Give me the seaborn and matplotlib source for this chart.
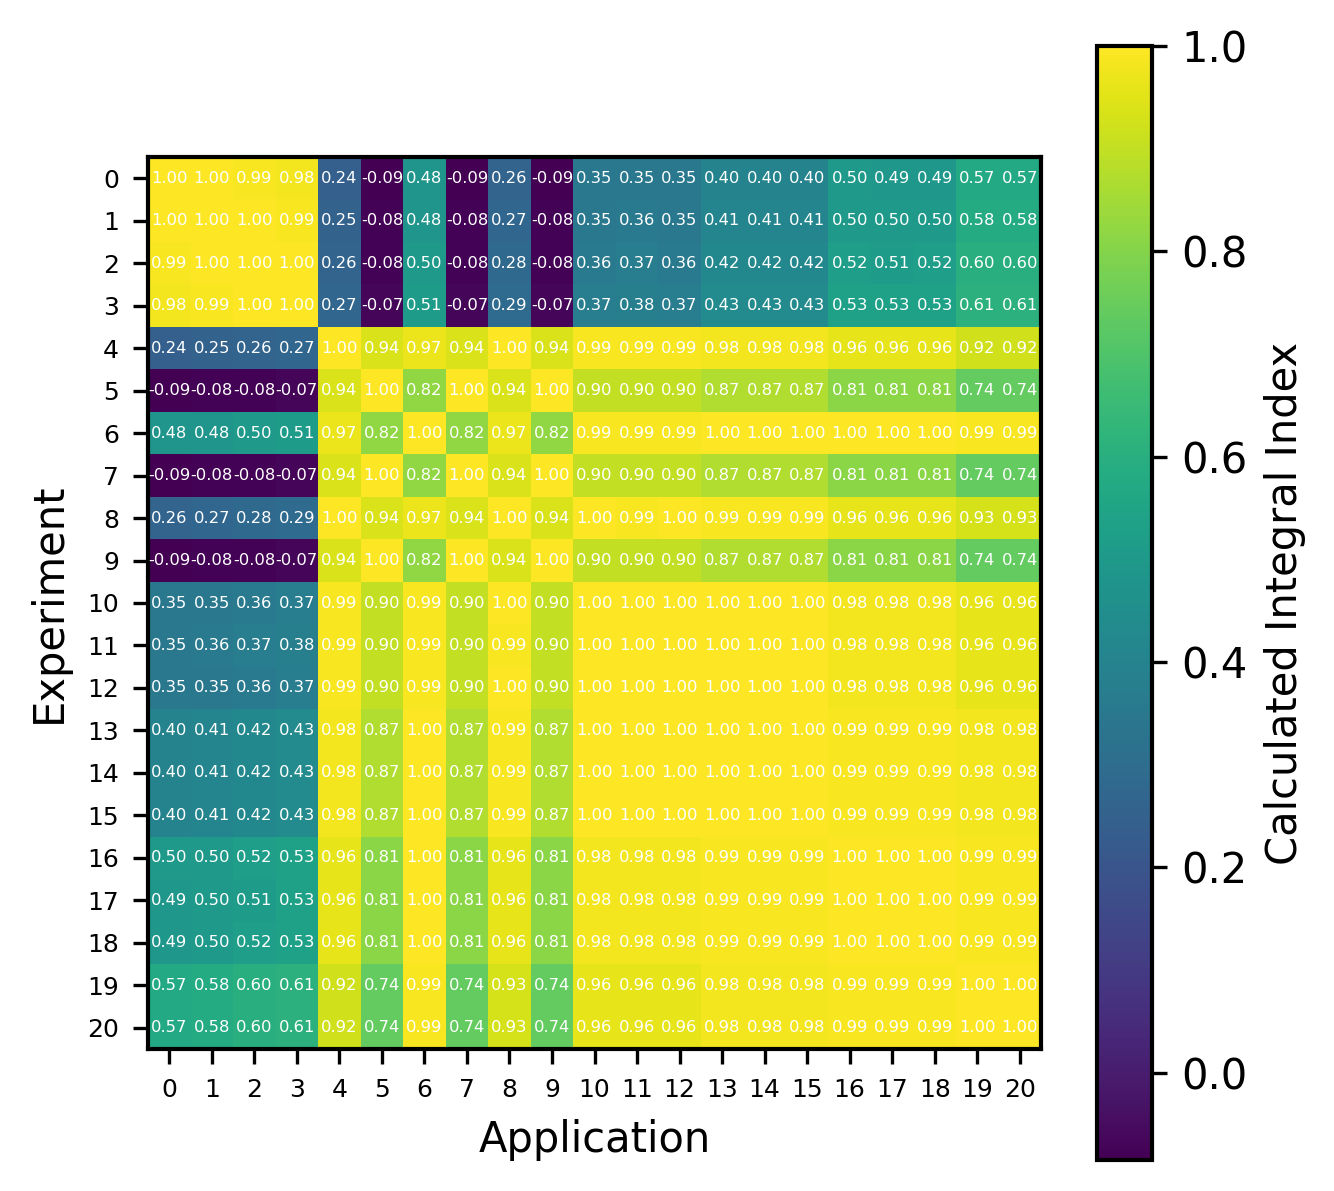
import numpy as np
import pandas as pd
import matplotlib
matplotlib.use("Agg")
import matplotlib.pyplot as plt
import seaborn as sns

experiments = list(range(21))
applications = list(range(21))

row_0 = [1.00, 1.00, 0.99, 0.98, 0.24, -0.09, 0.48, -0.09, 0.26, -0.09, 0.35, 0.35, 0.35, 0.40, 0.40, 0.40, 0.50, 0.49, 0.49, 0.57, 0.57]
row_1 = [1.00, 1.00, 1.00, 0.99, 0.25, -0.08, 0.48, -0.08, 0.27, -0.08, 0.35, 0.36, 0.35, 0.41, 0.41, 0.41, 0.50, 0.50, 0.50, 0.58, 0.58]
row_2 = [0.99, 1.00, 1.00, 1.00, 0.26, -0.08, 0.50, -0.08, 0.28, -0.08, 0.36, 0.37, 0.36, 0.42, 0.42, 0.42, 0.52, 0.51, 0.52, 0.60, 0.60]
row_3 = [0.98, 0.99, 1.00, 1.00, 0.27, -0.07, 0.51, -0.07, 0.29, -0.07, 0.37, 0.38, 0.37, 0.43, 0.43, 0.43, 0.53, 0.53, 0.53, 0.61, 0.61]
row_4 = [0.24, 0.25, 0.26, 0.27, 1.00, 0.94, 0.97, 0.94, 1.00, 0.94, 0.99, 0.99, 0.99, 0.98, 0.98, 0.98, 0.96, 0.96, 0.96, 0.92, 0.92]
row_5 = [-0.09, -0.08, -0.08, -0.07, 0.94, 1.00, 0.82, 1.00, 0.94, 1.00, 0.90, 0.90, 0.90, 0.87, 0.87, 0.87, 0.81, 0.81, 0.81, 0.74, 0.74]
row_6 = [0.48, 0.48, 0.50, 0.51, 0.97, 0.82, 1.00, 0.82, 0.97, 0.82, 0.99, 0.99, 0.99, 1.00, 1.00, 1.00, 1.00, 1.00, 1.00, 0.99, 0.99]
row_7 = [-0.09, -0.08, -0.08, -0.07, 0.94, 1.00, 0.82, 1.00, 0.94, 1.00, 0.90, 0.90, 0.90, 0.87, 0.87, 0.87, 0.81, 0.81, 0.81, 0.74, 0.74]
row_8 = [0.26, 0.27, 0.28, 0.29, 1.00, 0.94, 0.97, 0.94, 1.00, 0.94, 1.00, 0.99, 1.00, 0.99, 0.99, 0.99, 0.96, 0.96, 0.96, 0.93, 0.93]
row_9 = [-0.09, -0.08, -0.08, -0.07, 0.94, 1.00, 0.82, 1.00, 0.94, 1.00, 0.90, 0.90, 0.90, 0.87, 0.87, 0.87, 0.81, 0.81, 0.81, 0.74, 0.74]
row_10 = [0.35, 0.35, 0.36, 0.37, 0.99, 0.90, 0.99, 0.90, 1.00, 0.90, 1.00, 1.00, 1.00, 1.00, 1.00, 1.00, 0.98, 0.98, 0.98, 0.96, 0.96]
row_11 = [0.35, 0.36, 0.37, 0.38, 0.99, 0.90, 0.99, 0.90, 0.99, 0.90, 1.00, 1.00, 1.00, 1.00, 1.00, 1.00, 0.98, 0.98, 0.98, 0.96, 0.96]
row_12 = [0.35, 0.35, 0.36, 0.37, 0.99, 0.90, 0.99, 0.90, 1.00, 0.90, 1.00, 1.00, 1.00, 1.00, 1.00, 1.00, 0.98, 0.98, 0.98, 0.96, 0.96]
row_13 = [0.40, 0.41, 0.42, 0.43, 0.98, 0.87, 1.00, 0.87, 0.99, 0.87, 1.00, 1.00, 1.00, 1.00, 1.00, 1.00, 0.99, 0.99, 0.99, 0.98, 0.98]
row_14 = [0.40, 0.41, 0.42, 0.43, 0.98, 0.87, 1.00, 0.87, 0.99, 0.87, 1.00, 1.00, 1.00, 1.00, 1.00, 1.00, 0.99, 0.99, 0.99, 0.98, 0.98]
row_15 = [0.40, 0.41, 0.42, 0.43, 0.98, 0.87, 1.00, 0.87, 0.99, 0.87, 1.00, 1.00, 1.00, 1.00, 1.00, 1.00, 0.99, 0.99, 0.99, 0.98, 0.98]
row_16 = [0.50, 0.50, 0.52, 0.53, 0.96, 0.81, 1.00, 0.81, 0.96, 0.81, 0.98, 0.98, 0.98, 0.99, 0.99, 0.99, 1.00, 1.00, 1.00, 0.99, 0.99]
row_17 = [0.49, 0.50, 0.51, 0.53, 0.96, 0.81, 1.00, 0.81, 0.96, 0.81, 0.98, 0.98, 0.98, 0.99, 0.99, 0.99, 1.00, 1.00, 1.00, 0.99, 0.99]
row_18 = [0.49, 0.50, 0.52, 0.53, 0.96, 0.81, 1.00, 0.81, 0.96, 0.81, 0.98, 0.98, 0.98, 0.99, 0.99, 0.99, 1.00, 1.00, 1.00, 0.99, 0.99]
row_19 = [0.57, 0.58, 0.60, 0.61, 0.92, 0.74, 0.99, 0.74, 0.93, 0.74, 0.96, 0.96, 0.96, 0.98, 0.98, 0.98, 0.99, 0.99, 0.99, 1.00, 1.00]
row_20 = [0.57, 0.58, 0.60, 0.61, 0.92, 0.74, 0.99, 0.74, 0.93, 0.74, 0.96, 0.96, 0.96, 0.98, 0.98, 0.98, 0.99, 0.99, 0.99, 1.00, 1.00]

rows = [row_0, row_1, row_2, row_3, row_4, row_5, row_6, row_7, row_8, row_9, row_10,
        row_11, row_12, row_13, row_14, row_15, row_16, row_17, row_18, row_19, row_20]
df = pd.DataFrame(rows, index=experiments, columns=applications)

sns.set_style("white")
plt.rcParams['font.family'] = ['DejaVu Sans']
plt.rcParams['text.color'] = 'black'
plt.rcParams['axes.labelcolor'] = 'black'
plt.rcParams['xtick.color'] = 'black'
plt.rcParams['ytick.color'] = 'black'

W, H = 1334, 1191
dpi = 300
fig = plt.figure(figsize=(W / dpi, H / dpi), dpi=dpi)
ax = fig.add_axes([148 / W, 1 - 1049 / H, (1041 - 148) / W, (1049 - 157) / H])
cax = fig.add_axes([1097 / W, 1 - 1160 / H, (1152 - 1097) / W, (1160 - 46) / H])

sns.heatmap(df, ax=ax, cbar_ax=cax, cmap="viridis", vmin=-0.085, vmax=1.0,
            annot=True, fmt=".2f", annot_kws={"size": 3.95, "color": "white"},
            xticklabels=1, yticklabels=1,
            square=False, cbar_kws={"label": "Calculated Integral Index"})

for s in ax.spines.values():
    s.set_visible(True)
    s.set_linewidth(1.0)
    s.set_color("black")

ax.tick_params(axis="both", which="both", length=3.5, width=0.8, labelsize=6,
               left=True, bottom=True, color="black", labelcolor="black")
ax.tick_params(axis="y", rotation=0)
ax.tick_params(axis="x", rotation=0)
for lbl in ax.get_yticklabels():
    lbl.set_verticalalignment("center_baseline")
ax.set_xlabel("Application", fontsize=10, color="black")
ax.set_ylabel("Experiment", fontsize=10, color="black")

cbar = ax.collections[0].colorbar
cbar.set_ticks([0.0, 0.2, 0.4, 0.6, 0.8, 1.0])
cbar.ax.tick_params(labelsize=10, length=3.5, width=0.8, right=True,
                    color="black", labelcolor="black")
cbar.outline.set_visible(True)
cbar.outline.set_linewidth(1.0)
cbar.outline.set_edgecolor("black")
cbar.ax.yaxis.label.set_size(10)
cbar.ax.yaxis.label.set_color("black")

fig.savefig("out.png", dpi=dpi)
